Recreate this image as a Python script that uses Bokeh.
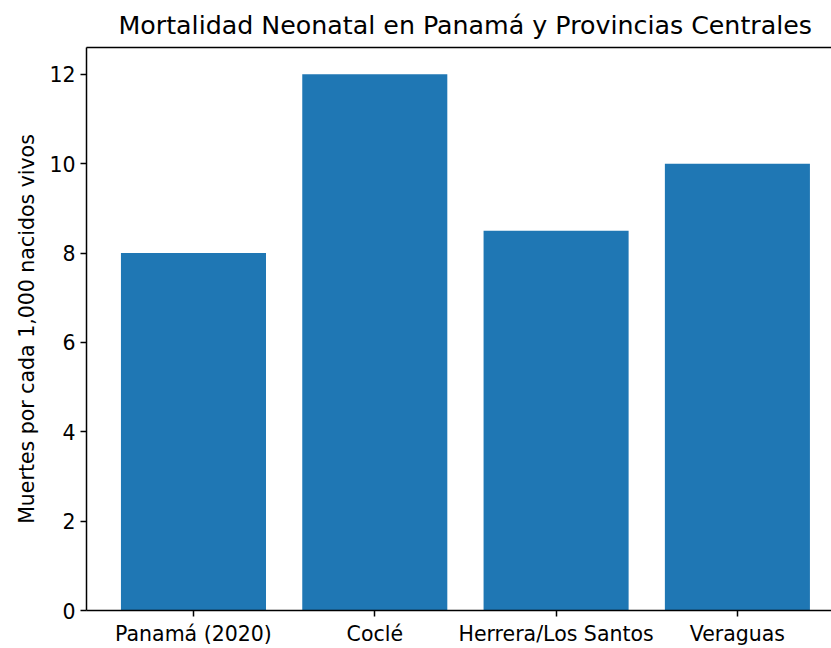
from bokeh.plotting import figure
from bokeh.models import Range1d, FixedTicker, LinearAxis, Title
from bokeh.embed import file_html
from bokeh.resources import INLINE

categories = ["Panamá (2020)", "Coclé", "Herrera/Los Santos", "Veraguas"]
values = [8, 12, 8.5, 10]
positions = [0, 1, 2, 3]
y_ticks = [0, 2, 4, 6, 8, 10, 12]

FONT = "DejaVu Sans"

p = figure(width=831, height=648, output_backend="svg", toolbar_location=None,
           x_range=Range1d(-0.59, 3.519), y_range=Range1d(0, 12.6),
           min_border_left=86, min_border_right=0, min_border_top=0, min_border_bottom=0)
p.title = None
p.outline_line_color = None
p.background_fill_color = "white"
p.border_fill_color = "white"
p.xgrid.visible = False
p.ygrid.visible = False

p.vbar(x=positions, top=values, width=0.8, bottom=0, color="#1f77b4", line_color=None)

for ax in (p.xaxis[0], p.yaxis[0]):
    ax.axis_line_color = "black"
    ax.axis_line_width = 1.5
    ax.major_tick_line_color = "black"
    ax.major_tick_line_width = 1.5
    ax.major_tick_out = 6
    ax.major_tick_in = 0
    ax.minor_tick_line_color = None
    ax.major_label_text_font = FONT
    ax.major_label_text_font_size = "20.5px"
    ax.major_label_text_color = "black"

p.xaxis.ticker = FixedTicker(ticks=positions)
p.xaxis.major_label_overrides = {pos: cat for pos, cat in zip(positions, categories)}
p.xaxis.major_label_standoff = 5

p.yaxis.ticker = FixedTicker(ticks=y_ticks)
p.yaxis.major_label_standoff = 5
p.yaxis.axis_label = "Muertes por cada 1,000 nacidos vivos"
p.yaxis.axis_label_text_font = FONT
p.yaxis.axis_label_text_font_size = "20.5px"
p.yaxis.axis_label_text_font_style = "normal"
p.yaxis.axis_label_text_color = "black"
p.yaxis.axis_label_standoff = 7

top = LinearAxis(ticker=FixedTicker(ticks=[]), major_label_text_font_size="0px",
                 major_tick_line_color=None, minor_tick_line_color=None,
                 axis_line_color="black", axis_line_width=1.5)
p.add_layout(top, "above")

t = Title(text="Mortalidad Neonatal en Panamá y Provincias Centrales", align="left",
          text_font=FONT, text_font_size="25.3px", text_font_style="normal",
          text_color="black", standoff=16, offset=32)
p.add_layout(t, "above")

open("out.html", "w").write(file_html(p, INLINE))
